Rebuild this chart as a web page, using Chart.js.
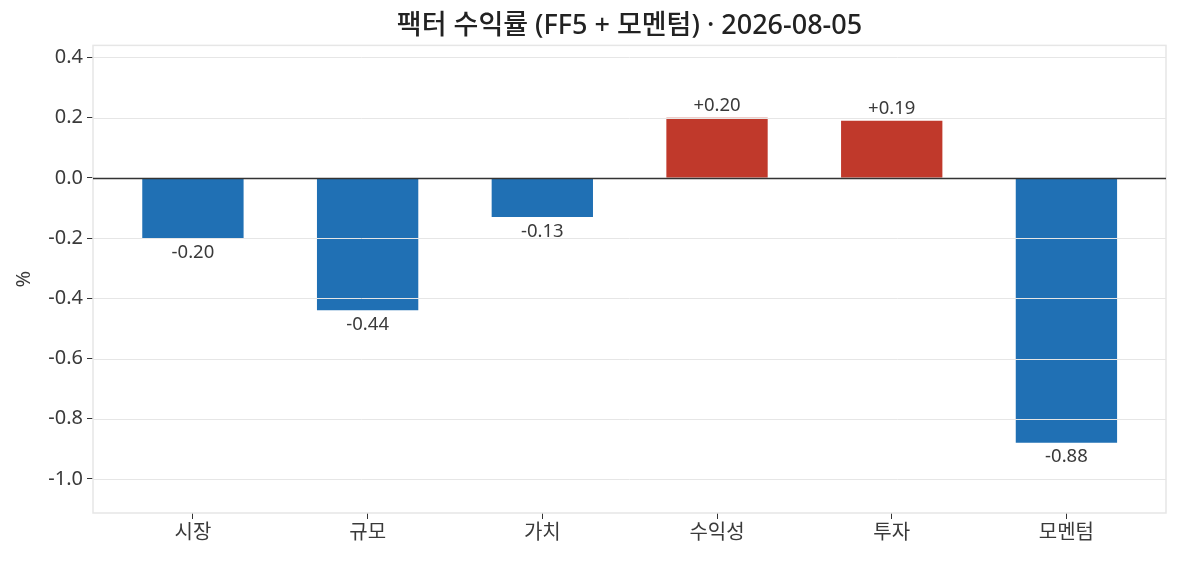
<!DOCTYPE html>
<html>
<head>
<meta charset="utf-8">
<script src="https://cdn.jsdelivr.net/npm/chart.js@4.4.1/dist/chart.umd.min.js"></script>
<style>
  html, body { margin: 0; padding: 0; background: #fff; }
  #wrap { width: 1180px; height: 561px; }
</style>
</head>
<body>
<div id="wrap"><canvas id="factorChart" width="1180" height="561"></canvas></div>
<script>
const factors = ["시장", "규모", "가치", "수익성", "투자", "모멘텀"];
const returns = [-0.20, -0.44, -0.13, 0.20, 0.19, -0.88];
const yTicks = [-1.0, -0.8, -0.6, -0.4, -0.2, 0.0, 0.2, 0.4];

const FONT = "'Noto Sans', 'Noto Sans CJK KR', sans-serif";
const TEXT = "#3a3a3a";
const BLUE = "#2070b4";
const RED = "#c0392b";

// grid + frame drawn over the bars, like the original
const overlayPlugin = {
  id: "overlay",
  afterDatasetsDraw(chart) {
    const { ctx, chartArea: a, scales } = chart;
    ctx.save();
    ctx.lineWidth = 1;
    ctx.strokeStyle = "#e6e6e6";
    yTicks.forEach((v) => {
      if (v === 0) return;
      const y = Math.round(scales.y.getPixelForValue(v)) + 0.5;
      ctx.beginPath();
      ctx.moveTo(a.left, y);
      ctx.lineTo(a.right, y);
      ctx.stroke();
    });
    ctx.strokeStyle = "#e6e6e6";
    ctx.lineWidth = 1.5;
    ctx.strokeRect(a.left, a.top, a.right - a.left, a.bottom - a.top);
    const y0 = Math.round(scales.y.getPixelForValue(0)) + 0.5;
    ctx.strokeStyle = "#333";
    ctx.lineWidth = 1.3;
    ctx.beginPath();
    ctx.moveTo(a.left, y0);
    ctx.lineTo(a.right, y0);
    ctx.stroke();

    // value labels
    ctx.fillStyle = TEXT;
    ctx.font = "18.5px " + FONT;
    ctx.textAlign = "center";
    const meta = chart.getDatasetMeta(0);
    meta.data.forEach((bar, i) => {
      const v = returns[i];
      const txt = (v > 0 ? "+" : "") + v.toFixed(2);
      if (v >= 0) {
        ctx.textBaseline = "bottom";
        ctx.fillText(txt, bar.x, bar.y - 3);
      } else {
        ctx.textBaseline = "top";
        ctx.fillText(txt, bar.x, bar.y + 5);
      }
    });
    ctx.restore();
  },
};

const ctx = document.getElementById("factorChart").getContext("2d");
new Chart(ctx, {
  type: "bar",
  data: {
    datasets: [
      {
        data: returns.map((v, i) => ({ x: i, y: v })),
        backgroundColor: returns.map((v) => (v >= 0 ? RED : BLUE)),
        borderWidth: 0,
        barPercentage: 0.58,
        categoryPercentage: 1.0,
      },
    ],
  },
  options: {
    responsive: false,
    animation: false,
    layout: { padding: { left: 12, right: 14, top: 0, bottom: 0 } },
    plugins: {
      legend: { display: false },
      tooltip: { enabled: false },
      title: {
        display: true,
        fullSize: false,
        text: "팩터 수익률 (FF5 + 모멘텀) · 2026-08-05",
        color: "#222",
        font: { family: FONT, size: 27, weight: 500 },
        padding: { top: 10, bottom: 3 },
      },
    },
    scales: {
      x: {
        type: "linear",
        min: -0.572,
        max: 5.57,
        offset: false,
        afterBuildTicks: (s) => { s.ticks = factors.map((f, i) => ({ value: i })); },
        grid: { offset: false, drawOnChartArea: false, tickLength: 6, tickColor: "#333" },
        border: { display: false },
        ticks: {
          color: TEXT,
          font: { family: FONT, size: 20 },
          padding: 2,
          autoSkip: false,
          maxRotation: 0,
          callback: (v) => factors[v],
        },
        afterFit: (s) => { s.height = 48; },
      },
      y: {
        min: -1.113,
        max: 0.44,
        afterBuildTicks: (s) => { s.ticks = yTicks.map((v) => ({ value: v })); },
        grid: { drawOnChartArea: false, tickLength: 6, tickColor: "#333" },
        border: { display: false },
        ticks: {
          color: TEXT,
          font: { family: FONT, size: 20 },
          padding: 4,
          callback: (v) => v.toFixed(1),
        },
        title: { display: true, text: "%", color: TEXT, font: { family: FONT, size: 20 }, padding: 0 },
        afterFit: (s) => { s.width = 81; },
      },
    },
  },
  plugins: [overlayPlugin],
});
</script>
</body>
</html>
